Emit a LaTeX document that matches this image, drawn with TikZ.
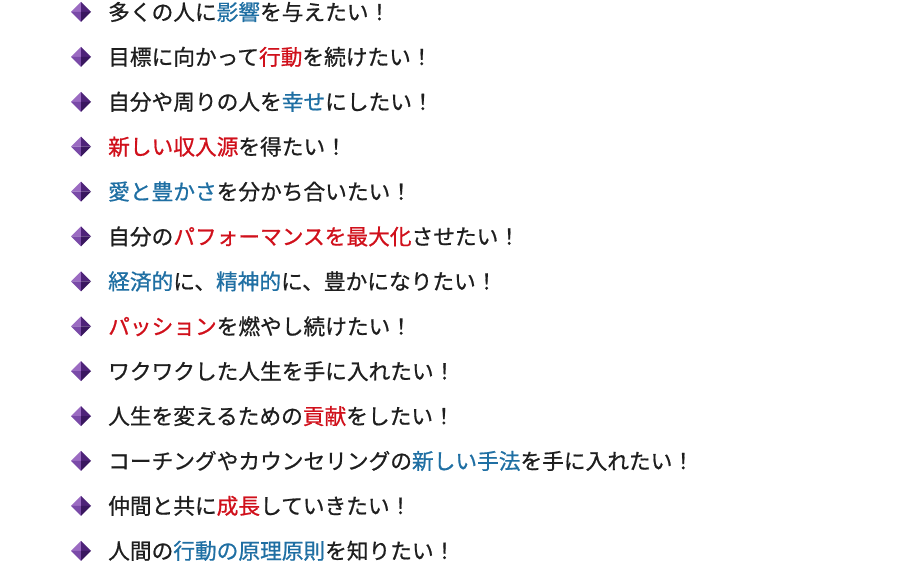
\documentclass[tikz,border=0pt]{standalone}
\usepackage{fontspec}
\newfontfamily\jpfont[FakeBold=0.8]{Noto Sans CJK JP}
\usetikzlibrary{positioning}
\definecolor{txtgray}{HTML}{1E1E1E}
\definecolor{hlblue}{HTML}{1F6FA3}
\definecolor{hlred}{HTML}{D0101B}
\definecolor{gemtop}{HTML}{9B6BC2}
\definecolor{gemleft}{HTML}{7A4AA8}
\definecolor{gemright}{HTML}{4E2379}
\definecolor{gembot}{HTML}{3A1760}
\newcommand{\hb}[1]{\textcolor{hlblue}{#1}}
\newcommand{\hr}[1]{\textcolor{hlred}{#1}}
\tikzset{
  itemtext/.style={anchor=west,inner sep=0pt,font=\jpfont\fontsize{21.7pt}{21.7pt}\selectfont,text=txtgray},
  gem/.pic={
    \fill[gemtop] (0,0) -- (-10,0) -- (0,10) -- cycle;
    \fill[gemleft] (0,0) -- (-10,0) -- (0,-10) -- cycle;
    \fill[gemright] (0,0) -- (10,0) -- (0,10) -- cycle;
    \fill[gembot] (0,0) -- (10,0) -- (0,-10) -- cycle;
  }
}
\begin{document}
\begin{tikzpicture}[x=1pt,y=1pt]
	\useasboundingbox (0,0) rectangle (900,570);
	\foreach \i/\txt in {
		1/{多くの人に\hb{影響}を与えたい！},
		2/{目標に向かって\hr{行動}を続けたい！},
		3/{自分や周りの人を\hb{幸せ}にしたい！},
		4/{\hr{新しい収入源}を得たい！},
		5/{\hb{愛と豊かさ}を分かち合いたい！},
		6/{自分の\hr{パフォーマンスを最大化}させたい！},
		7/{\hb{経済的}に、\hb{精神的}に、豊かになりたい！},
		8/{\hr{パッション}を燃やし続けたい！},
		9/{ワクワクした人生を手に入れたい！},
		10/{人生を変えるための\hr{貢献}をしたい！},
		11/{コーチングやカウンセリングの\hb{新しい手法}を手に入れたい！},
		12/{仲間と共に\hr{成長}していきたい！},
		13/{人間の\hb{行動の原理原則}を知りたい！}} {
		\pic (gem\i) at (81,{570-12-(\i-1)*44.9}) {gem};
		\node[itemtext] (item\i) at (108,{570-12-(\i-1)*44.9}) {\txt};
	}
\end{tikzpicture}
\end{document}
